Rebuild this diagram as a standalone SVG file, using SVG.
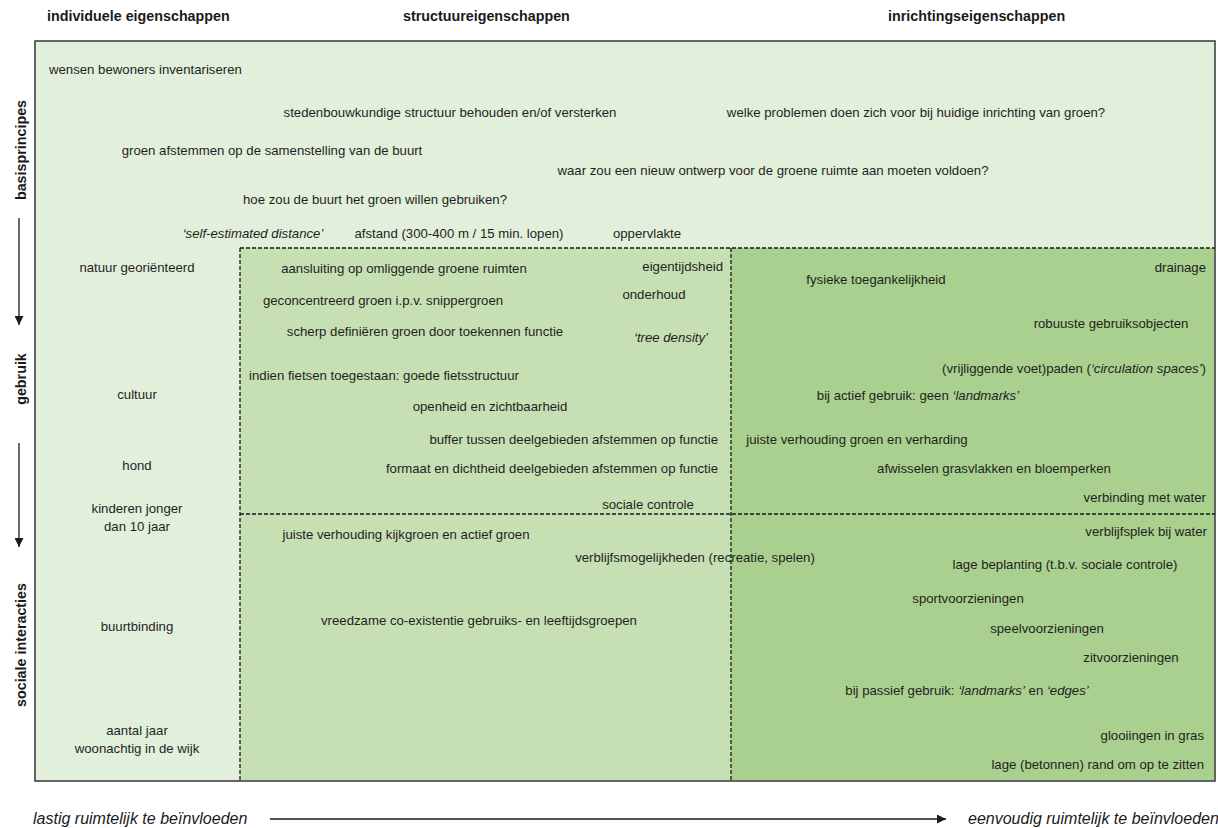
<svg xmlns="http://www.w3.org/2000/svg" width="1218" height="828" viewBox="0 0 1218 828">
<defs>
<style>
.t{font-family:"Liberation Sans",Arial,sans-serif;font-size:13.2px;fill:#1f1f1f}
.m{text-anchor:middle}
.e{text-anchor:end}
.i{font-style:italic}
.h{font-family:"Liberation Sans",Arial,sans-serif;font-size:14.3px;font-weight:bold;fill:#1a1a1a}
.b{font-family:"Liberation Sans",Arial,sans-serif;font-size:16px;font-style:italic;fill:#1a1a1a}
.dash{fill:none;stroke:#1a1a1a;stroke-width:1.3;stroke-dasharray:4 2}
.ax{fill:none;stroke:#1a1a1a;stroke-width:1.3}
</style>
<marker id="ah" viewBox="0 0 10 10" refX="10" refY="5" markerWidth="9" markerHeight="9" markerUnits="userSpaceOnUse" orient="auto">
<path d="M0,0 L10,5 L0,10 z" fill="#1a1a1a"/>
</marker>
<marker id="ah2" viewBox="0 0 10 10" refX="10" refY="5" markerWidth="9" markerHeight="9" markerUnits="userSpaceOnUse" orient="auto">
<path d="M0,0 L10,5 L0,10 z" fill="#1a1a1a"/>
</marker>
</defs>
<rect width="1218" height="828" fill="#ffffff"/>

<g id="regions">
<rect x="35" y="41" width="1180" height="740" fill="#e2efda" stroke="#404040" stroke-width="1.6"/>
<rect x="240" y="248" width="491" height="532" fill="#c6e0b4"/>
<rect x="731" y="248" width="483" height="532" fill="#a9d08e"/>
</g>

<g id="headers">
<text class="h" x="47" y="21">individuele eigenschappen</text>
<text class="h" x="403" y="21">structuureigenschappen</text>
<text class="h" x="888" y="21">inrichtingseigenschappen</text>
</g>

<g id="side-labels">
<text class="h m" transform="translate(26,150) rotate(-90)">basisprincipes</text>
<text class="h m" transform="translate(26,379) rotate(-90)">gebruik</text>
<text class="h m" transform="translate(26,645) rotate(-90)">sociale interacties</text>
</g>

<g id="basisprincipes">
<g id="n-wensen"><text class="t" x="49" y="74">wensen bewoners inventariseren</text></g>
<g id="n-stedenbouw"><text class="t m" x="450" y="117">stedenbouwkundige structuur behouden en/of versterken</text></g>
<g id="n-welke"><text class="t m" x="916" y="117">welke problemen doen zich voor bij huidige inrichting van groen?</text></g>
<g id="n-groenafstemmen"><text class="t m" x="272" y="155">groen afstemmen op de samenstelling van de buurt</text></g>
<g id="n-waarzou"><text class="t m" x="773" y="175">waar zou een nieuw ontwerp voor de groene ruimte aan moeten voldoen?</text></g>
<g id="n-hoezou"><text class="t m" x="375" y="204">hoe zou de buurt het groen willen gebruiken?</text></g>
<g id="n-selfest"><text class="t m i" x="253" y="238">‘self-estimated distance’</text></g>
<g id="n-afstand"><text class="t m" x="459" y="238">afstand (300-400 m / 15 min. lopen)</text></g>
<g id="n-oppervlakte"><text class="t m" x="647" y="238">oppervlakte</text></g>
</g>

<g id="individueel">
<g id="n-natuur"><text class="t m" x="137" y="272">natuur georiënteerd</text></g>
<g id="n-cultuur"><text class="t m" x="137" y="399">cultuur</text></g>
<g id="n-hond"><text class="t m" x="137" y="470">hond</text></g>
<g id="n-kinderen"><text class="t m" x="137" y="513">kinderen jonger</text><text class="t m" x="137" y="531">dan 10 jaar</text></g>
<g id="n-buurtbinding"><text class="t m" x="137" y="631">buurtbinding</text></g>
<g id="n-aantal"><text class="t m" x="137" y="735">aantal jaar</text><text class="t m" x="137" y="753">woonachtig in de wijk</text></g>
</g>

<g id="structuur-gebruik">
<g id="n-aansluiting"><text class="t m" x="404" y="273">aansluiting op omliggende groene ruimten</text></g>
<g id="n-geconcentreerd"><text class="t m" x="383" y="305">geconcentreerd groen i.p.v. snippergroen</text></g>
<g id="n-scherp"><text class="t m" x="425" y="336">scherp definiëren groen door toekennen functie</text></g>
<g id="n-fietsen"><text class="t m" x="384" y="380">indien fietsen toegestaan: goede fietsstructuur</text></g>
<g id="n-openheid"><text class="t m" x="490" y="411">openheid en zichtbaarheid</text></g>
<g id="n-buffer"><text class="t e" x="718" y="444">buffer tussen deelgebieden afstemmen op functie</text></g>
<g id="n-formaat"><text class="t e" x="718" y="473">formaat en dichtheid deelgebieden afstemmen op functie</text></g>
<g id="n-sociale"><text class="t m" x="648" y="509">sociale controle</text></g>
<g id="n-eigentijds"><text class="t e" x="723" y="271">eigentijdsheid</text></g>
<g id="n-onderhoud"><text class="t m" x="654" y="299">onderhoud</text></g>
<g id="n-tree"><text class="t m i" x="671" y="342">‘tree density’</text></g>
</g>

<g id="inrichting-gebruik">
<g id="n-drainage"><text class="t e" x="1206" y="272">drainage</text></g>
<g id="n-fysieke"><text class="t m" x="876" y="284">fysieke toegankelijkheid</text></g>
<g id="n-robuuste"><text class="t m" x="1111" y="328">robuuste gebruiksobjecten</text></g>
<g id="n-paden"><text class="t e" x="1206" y="373">(vrijliggende voet)paden (<tspan class="i">‘circulation spaces’</tspan>)</text></g>
<g id="n-actief"><text class="t m" x="918" y="400">bij actief gebruik: geen <tspan class="i">‘landmarks’</tspan></text></g>
<g id="n-verhouding"><text class="t m" x="857" y="444">juiste verhouding groen en verharding</text></g>
<g id="n-afwisselen"><text class="t m" x="994" y="473">afwisselen grasvlakken en bloemperken</text></g>
<g id="n-verbinding"><text class="t e" x="1206" y="502">verbinding met water</text></g>
</g>

<g id="structuur-sociaal">
<g id="n-kijkgroen"><text class="t m" x="406" y="539">juiste verhouding kijkgroen en actief groen</text></g>
<g id="n-verblijfsmog"><text class="t m" x="695" y="562">verblijfsmogelijkheden (recreatie, spelen)</text></g>
<g id="n-vreedzame"><text class="t m" x="479" y="625">vreedzame co-existentie gebruiks- en leeftijdsgroepen</text></g>
</g>

<g id="inrichting-sociaal">
<g id="n-verblijfsplek"><text class="t e" x="1207" y="536">verblijfsplek bij water</text></g>
<g id="n-lagebeplanting"><text class="t m" x="1065" y="569">lage beplanting (t.b.v. sociale controle)</text></g>
<g id="n-sport"><text class="t m" x="968" y="603">sportvoorzieningen</text></g>
<g id="n-speel"><text class="t m" x="1047" y="633">speelvoorzieningen</text></g>
<g id="n-zit"><text class="t m" x="1131" y="662">zitvoorzieningen</text></g>
<g id="n-passief"><text class="t m" x="967" y="695">bij passief gebruik: <tspan class="i">‘landmarks’</tspan> en <tspan class="i">‘edges’</tspan></text></g>
<g id="n-glooiingen"><text class="t e" x="1204" y="740">glooiingen in gras</text></g>
<g id="n-rand"><text class="t e" x="1204" y="769">lage (betonnen) rand om op te zitten</text></g>
</g>

<g id="connectors">
<path class="dash" d="M240,248 H1215 M240,248 V781 M731,248 V781 M240,514 H1215"/>
<path class="ax" d="M19,218 V325" marker-end="url(#ah)"/>
<path class="ax" d="M19,443 V547" marker-end="url(#ah)"/>
<path class="ax" d="M270,819 H946" marker-end="url(#ah2)"/>
</g>

<g id="axis-labels">
<text class="b" x="33" y="824">lastig ruimtelijk te beïnvloeden</text>
<text class="b" x="968" y="824">eenvoudig ruimtelijk te beïnvloeden</text>
</g>
</svg>
